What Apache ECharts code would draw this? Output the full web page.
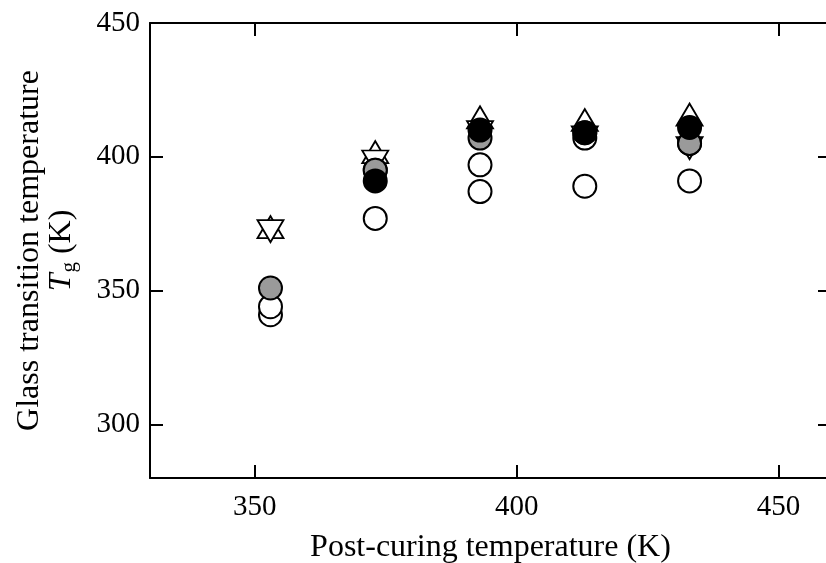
<!DOCTYPE html>
<html>
<head>
<meta charset="utf-8">
<script src="https://cdn.jsdelivr.net/npm/echarts@6/dist/echarts.min.js"></script>
<style>
  html, body { margin: 0; padding: 0; background: #fff; }
  #chart { width: 826px; height: 563px; }
</style>
</head>
<body>
<div id="chart"></div>
<script>
// Post-curing temperature (K)
const postCuring = [353, 373, 393, 413, 433];

// Glass transition temperature Tg (K) for each sample set
const openLow   = [341, 377, 387, 389, 391];
const openHigh  = [344, 395, 397, 407, 405];
const grayFill  = [351, 395, 407, 409, 405];
const blackFill = [null, 391, 410, 409, 411];
const triUp     = [373, 401, 414, 413, 415];
const triDown   = [373, 399, 410, 408, 404];

const xTicks = [350, 400, 450];
const yTicks = [300, 350, 400, 450];

const FONT = 'Liberation Serif';

function pairs(ys) {
  return postCuring.map((x, i) => [x, ys[i]]).filter(p => p[1] !== null);
}

const lineStyle = { color: '#000', width: 2 };

function baseX(pos, showLabels) {
  return {
    type: 'value', position: pos, min: 330, max: 460,
    axisLine: { show: true, onZero: false, lineStyle },
    axisTick: { show: true, inside: true, length: 13, lineStyle, customValues: xTicks },
    axisLabel: { show: showLabels, customValues: xTicks, fontFamily: FONT, fontSize: 29, color: '#000', margin: 15 },
    splitLine: { show: false }
  };
}
function baseY(pos, showLabels) {
  return {
    type: 'value', position: pos, min: 280, max: 450,
    axisLine: { show: true, onZero: false, lineStyle },
    axisTick: { show: true, inside: true, length: 13, lineStyle, customValues: yTicks },
    axisLabel: { show: showLabels, customValues: yTicks, fontFamily: FONT, fontSize: 29, color: '#000', margin: 10 },
    splitLine: { show: false }
  };
}

const xMain = baseX('bottom', true);
xMain.name = 'Post-curing temperature (K)';
xMain.nameLocation = 'middle';
xMain.nameGap = 54;
xMain.nameTextStyle = { fontFamily: FONT, fontSize: 32, color: '#000' };

const yMain = baseY('left', true);
yMain.name = 'Glass transition temperature\n{it|T}{sub|g}{n| (K)}';
yMain.nameLocation = 'middle';
yMain.nameGap = 72;
yMain.nameRotate = 90;
yMain.nameTextStyle = {
  fontFamily: FONT, fontSize: 32, color: '#000', lineHeight: 32,
  rich: {
    it: { fontFamily: FONT, fontSize: 32, fontStyle: 'italic', color: '#000' },
    sub: { fontFamily: FONT, fontSize: 21, color: '#000', padding: [14, 0, 0, 1] },
    n: { fontFamily: FONT, fontSize: 32, color: '#000' }
  }
};

function scatter(name, ys, opts) {
  const s = Object.assign({
    name, type: 'scatter', data: pairs(ys),
    symbol: 'circle', symbolSize: 23,
    emphasis: { disabled: true }
  }, opts);
  s.itemStyle = Object.assign({ color: '#fff', borderColor: '#000', borderWidth: 2, opacity: 1 }, opts && opts.itemStyle);
  return s;
}

const option = {
  animation: false,
  backgroundColor: '#fff',
  grid: { left: 150, top: 23, right: -5, bottom: 85, containLabel: false, outerBoundsMode: 'none' },
  xAxis: [xMain, baseX('top', false)],
  yAxis: [yMain, baseY('right', false)],
  series: [
    scatter('triUp', triUp, { symbol: 'triangle', symbolSize: [26, 22], symbolOffset: [0, -2], itemStyle: { borderWidth: 1.8 } }),
    scatter('triDown', triDown, { symbol: 'triangle', symbolSize: [26, 22], symbolRotate: 180, symbolOffset: [0, 2], itemStyle: { borderWidth: 1.8 } }),
    scatter('openLow', openLow),
    scatter('openHigh', openHigh),
    scatter('gray', grayFill, { itemStyle: { color: '#9a9a9a' } }),
    scatter('black', blackFill, { itemStyle: { color: '#000' } })
  ]
};

echarts.init(document.getElementById('chart'), null, { renderer: 'canvas' }).setOption(option);
</script>
</body>
</html>
